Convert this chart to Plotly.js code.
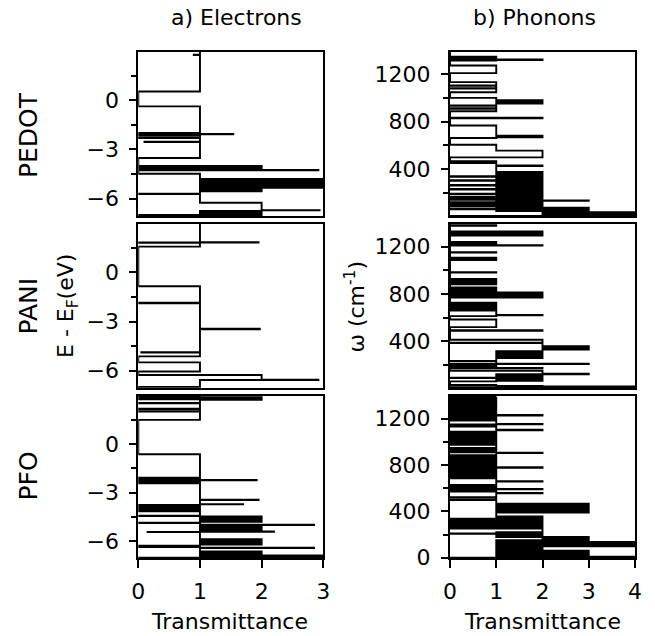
<!DOCTYPE html>
<html><head><meta charset="utf-8">
<script src="https://cdn.plot.ly/plotly-3.0.1.min.js"></script>
<style>html,body{margin:0;padding:0;background:#fff}#c{width:655px;height:636px}</style>
</head><body><div id="c"></div>
<script>
// ---- Electrons: energy breakpoints (eV, relative to E_F) and transmittance from each breakpoint upward ----
const pedotElE = [-7.05,-6.99,-6.96,-6.94,-6.92,-6.90,-6.88,-6.86,-6.84,-6.82,-6.80,-6.78,-6.76,-6.74,-6.71,-6.69,-6.24,-5.72,-5.69,-5.55,-5.52,-5.48,-5.45,-5.40,-5.36,-5.33,-5.31,-5.28,-5.25,-5.22,-5.19,-5.16,-5.13,-5.10,-5.06,-5.03,-5.00,-4.97,-4.94,-4.90,-4.86,-4.82,-4.79,-4.48,-4.27,-4.25,-4.21,-4.17,-4.13,-4.10,-4.06,-4.03,-4.01,-3.52,-2.55,-2.53,-2.30,-2.28,-2.16,-2.13,-2.10,-2.07,-2.05,-2.03,-2.00,-0.38,0.53,2.75,2.77,2.95];
const pedotElT = [0,2,1,2,1,2,1,2,1,2,1,2,1,2,2.94,2,1,0,1,2,1,2,1,2,1,3,1,3,1,3,2,3,1,3,2,3,1,3,1,3,1,3,1,0,2.92,2,0,2,0,2,0,2,0,1,0.1,1,0,1,0,1,0,1.54,1,0,1,0,1,0.9,1,1];

const paniElE = [-7.05,-6.98,-6.56,-6.54,-6.26,-6.04,-5.49,-5.12,-4.89,-4.87,-3.47,-3.44,-1.88,-1.85,-0.85,1.57,1.80,1.82,1.84,2.95];
const paniElT = [0,1,2.92,2,0,1,0,1,0.05,1,1.97,1,0,1,0,1,0,1.95,1,1];

const pfoElE = [-7.05,-7.02,-7.00,-6.97,-6.94,-6.91,-6.88,-6.85,-6.82,-6.79,-6.76,-6.72,-6.69,-6.66,-6.63,-6.42,-6.40,-6.36,-6.33,-6.30,-6.27,-6.20,-6.17,-6.14,-6.11,-6.08,-6.04,-6.00,-5.96,-5.92,-5.88,-5.43,-5.42,-5.40,-5.36,-5.33,-5.30,-5.27,-5.24,-5.21,-5.18,-5.15,-5.12,-5.09,-5.06,-5.03,-5.00,-4.98,-4.88,-4.86,-4.80,-4.77,-4.74,-4.71,-4.68,-4.65,-4.62,-4.59,-4.56,-4.53,-4.50,-4.47,-4.44,-4.42,-4.15,-4.12,-4.08,-4.05,-4.01,-3.98,-3.94,-3.91,-3.87,-3.84,-3.80,-3.77,-3.73,-3.71,-3.46,-3.44,-2.43,-2.41,-2.37,-2.34,-2.31,-2.28,-2.25,-2.23,-2.20,-2.17,-2.14,-2.11,-2.08,-0.64,1.48,1.99,2.01,2.15,2.17,2.50,2.52,2.72,2.75,2.78,2.81,2.84,2.87,2.90,2.95];
const pfoElT = [0,3,1,3,1,3,1,2,1,2,1,2,1,2,1,2.85,1,0,1,0,1,2,1,2,1,2,1,2,1,2,1,0.15,2.2,1,2,1,2,1,2,1,2,1,2,1,2,1,2.85,1,0,1,2,1,2,1,2,1,2,1,2,1,2,1,0,1,0,1,0,1,0,1,0,1,0,1,0,1,1.7,1,1.95,1,0,1,0,1,0,1,1.92,0,1,0,1,0,1,0,1,0,1,0,1,0,1,2,0,2,0,2,1,0,0];

// ---- Phonons: frequency breakpoints (cm^-1) and transmittance from each breakpoint upward ----
const pedotPhW = [3,5,8,11,14,17,20,24,28,32,36,41,45,49,53,57,61,63,67,71,75,80,84,88,92,96,100,104,108,112,116,120,124,128,133,136,140,145,150,156,160,165,170,176,182,188,192,198,204,210,216,222,228,232,238,244,250,256,262,266,272,278,284,290,296,302,306,312,318,324,330,336,340,346,352,358,364,370,376,386,426,430,452,456,468,499,556,606,663,668,673,678,683,768,829,834,889,910,914,935,938,955,958,962,966,970,974,980,983,1002,1050,1080,1083,1103,1106,1135,1211,1276,1318,1322,1326,1330,1334,1338,1342,1346,1350,1392];
const pedotPhT = [0,4,2,4,2,4,2,4,2,4,2,3,1,3,1,3,0,3,1,3,1,2,0,2,0,2,0,2,0,2,0,2,1,2,3,2,0,2,1,2,0,1,2,1,2,0,1,2,1,2,1,2,0,2,1,2,1,2,0,1,2,1,2,1,2,0,2,1,2,1,2,0,1,2,1,2,1,2,1,1,2,1,0,1,0,2,1,0,1,2,1,2,1,0,2,0,1,0,1,0,1,2,1,2,1,2,1,2,1,0,1,0,1,0,1,0,1,0,1,2,0,1,0,1,0,1,0,0];

const paniPhW = [3,10,17,22,30,60,64,68,72,76,80,84,88,91,95,99,103,107,111,120,124,150,170,174,190,194,207,210,230,233,258,262,266,270,274,278,282,286,290,294,298,302,306,310,315,330,334,338,342,346,350,355,358,384,387,412,489,493,519,584,612,620,623,660,663,678,689,693,697,701,705,709,713,717,721,726,769,773,777,781,785,789,793,797,801,805,809,812,820,824,828,832,836,840,844,848,852,856,882,886,890,894,898,902,906,910,914,918,922,926,981,985,1087,1091,1095,1099,1102,1106,1150,1154,1209,1212,1216,1220,1224,1228,1232,1236,1240,1294,1298,1302,1306,1310,1314,1318,1322,1326,1330,1377,1381,1392];
const paniPhT = [0,4,2,1,0,1,2,1,2,1,2,1,0,2,1,2,1,2,1,3,2,0,2,0,1,0,3,1,0,1,2,1,2,1,2,1,2,1,2,1,2,1,2,1,2,3,2,3,2,3,2,3,2,0,2,0,2,0,1,0,1,2,1,0,1,0,1,0,1,0,1,0,1,0,1,0,2,0,2,1,2,0,2,1,2,0,2,0,1,0,1,0,1,0,1,0,1,0,1,0,1,0,1,0,1,0,1,0,1,0,1,0,1,0,1,0,1,0,1,0,2,1,0,1,0,1,0,1,0,2,0,2,0,2,1,2,0,2,0,1,0,0];

const pfoPhW = [-5,1,2,6,9,13,17,21,25,29,33,37,41,45,49,53,57,61,78,82,86,90,94,98,101,105,109,113,116,120,123,127,130,134,137,151,155,159,163,167,171,175,179,183,187,191,195,199,203,207,209,213,217,221,252,256,260,264,268,272,276,280,284,288,292,296,300,304,308,312,316,320,324,328,332,336,340,344,348,352,356,390,394,398,402,406,410,414,418,422,426,430,434,438,442,446,450,454,458,462,466,497,500,518,522,555,558,570,574,578,582,586,590,593,598,602,606,610,614,628,657,660,686,700,704,708,712,716,720,724,728,732,736,740,744,748,752,756,760,764,768,772,776,780,784,788,792,796,800,804,808,812,816,820,824,828,832,836,840,844,848,852,856,860,864,868,873,882,885,902,906,910,914,918,922,926,930,934,938,942,946,975,979,985,989,995,999,1005,1009,1015,1019,1030,1034,1045,1049,1058,1062,1072,1076,1085,1088,1100,1104,1132,1134,1137,1150,1153,1183,1187,1191,1195,1199,1203,1207,1211,1215,1220,1223,1227,1231,1235,1239,1243,1247,1251,1255,1259,1263,1267,1271,1275,1279,1283,1287,1291,1295,1299,1303,1307,1311,1315,1319,1323,1327,1331,1335,1339,1343,1350,1354,1358,1362,1366,1370,1374,1378,1381,1395];
const pfoPhT = [0,1,3,4,3,1,3,1,3,1,3,1,3,1,3,1,3,1,2,1,2,1,2,4,1,2,1,4,2,4,1,4,2,4,1,3,2,3,2,3,2,3,1,2,1,2,1,2,1,0,1,2,1,2,0,1,2,0,2,1,0,2,1,0,2,1,0,2,0,1,2,0,2,1,0,2,1,2,1,2,1,3,1,3,1,3,1,3,1,3,1,3,1,3,1,3,1,3,1,3,1,0,1,0,1,2,1,0,1,0,1,0,2,1,0,1,0,1,0,1,2,1,0,1,0,1,0,1,0,1,0,1,0,1,0,1,0,1,0,1,0,1,2,0,1,0,1,0,1,0,1,0,1,0,1,0,1,0,1,0,1,0,1,0,1,0,1,0,1,2,1,0,1,0,1,0,1,0,1,0,1,0,1,0,1,0,1,0,1,0,1,0,1,0,1,0,1,0,1,0,1,2,1,0,1,0,2,1,0,1,0,1,0,1,0,1,0,1,0,2,1,0,1,0,1,0,1,0,1,0,1,0,1,0,1,0,1,0,1,0,1,0,1,0,1,0,1,0,1,0,1,0,1,0,1,0,1,0,1,0,1,0,0];

// ---- labels ----
const rowLabels = ['PEDOT','PANI','PFO'];
const colTitles = ['a) Electrons','b) Phonons'];
const elTicks = [0,-3,-6];
const phTicks = [0,400,800,1200];
const elXTicks = [0,1,2,3];
const phXTicks = [0,1,2,3,4];

const W=655, H=636;
const FONT = 'DejaVu Sans';
const px = x => x/W, py = y => 1 - y/H;

const panels = [
  {E:pedotElE, T:pedotElT}, {E:pedotPhW, T:pedotPhT},
  {E:paniElE, T:paniElT},   {E:paniPhW, T:paniPhT},
  {E:pfoElE, T:pfoElT},     {E:pfoPhW, T:pfoPhT}
];
const traces = panels.map((p,i)=>({
  type:'scatter', mode:'lines', x:p.T, y:p.E,
  line:{shape:'vh', color:'#000', width:1.9},
  xaxis: i===0?'x':'x'+(i+1), yaxis: i===0?'y':'y'+(i+1),
  hoverinfo:'skip', showlegend:false
}));

const colX = [[138.3,323.3],[450,635]];
const rowY = [[51.7,216],[224,388],[396,558.3]];
const layout = {
  width:W, height:H, margin:{l:0,r:0,t:0,b:0},
  paper_bgcolor:'#fff', plot_bgcolor:'#fff', showlegend:false,
  font:{family:FONT, size:22, color:'#000'},
  annotations:[]
};
for (let r=0;r<3;r++){
  for (let c=0;c<2;c++){
    const i = r*2+c, s = i===0?'':String(i+1);
    const bottom = r===2;
    const xa = {
      domain:[px(colX[c][0]), px(colX[c][1])],
      range: c===0?[0,3]:[0,4], anchor:'y'+s,
      showline:true, mirror:true, linewidth:2, linecolor:'#000',
      showgrid:false, zeroline:false, fixedrange:true,
      tickmode:'array', tickvals: c===0?elXTicks:phXTicks,
      ticks: bottom?'outside':'', ticklen:8, tickwidth:2, tickcolor:'#000',
      showticklabels: bottom, ticklabelstandoff:4,
      tickfont:{family:FONT,size:22,color:'#000'}
    };
    const ya = {
      domain:[py(rowY[r][1]), py(rowY[r][0])],
      range: c===0?[-7.05,2.95]:(bottom?[-5,1395]:[4,1392]), anchor:'x'+s,
      showline:true, mirror:true, linewidth:2, linecolor:'#000',
      showgrid:false, zeroline:false, fixedrange:true,
      tickmode:'array', tickvals: c===0?elTicks:phTicks,
      ticks:'outside', ticklen:7, tickwidth:2, tickcolor:'#000',
      ticklabelstandoff:6,
      minor:{tickmode:'linear', tick0:0, dtick: c===0?1.5:200, ticks:'outside', ticklen:5, tickwidth:2, tickcolor:'#000', showgrid:false},
      tickfont:{family:FONT,size:22,color:'#000'}
    };
    layout['xaxis'+s]=xa; layout['yaxis'+s]=ya;
  }
}
const ann = (x,y,text,size,angle)=>({xref:'paper',yref:'paper',x:px(x),y:py(y),text:text,showarrow:false,
  xanchor:'center',yanchor:'middle',textangle:angle||0,font:{family:FONT,size:size,color:'#000'}});
layout.annotations.push(ann(236,17,colTitles[0],22));
layout.annotations.push(ann(534,17,colTitles[1],22));
layout.annotations.push(ann(28,135,rowLabels[0],25,-90));
layout.annotations.push(ann(28,306.5,rowLabels[1],25,-90));
layout.annotations.push(ann(28,476.5,rowLabels[2],25,-90));
layout.annotations.push(ann(67,306,'E - E<sub>F</sub>(eV)',22,-90));
layout.annotations.push(ann(354,306.5,'ω (cm<sup>-1</sup>)',22,-90));
layout.annotations.push(ann(230,621,'Transmittance',22));
layout.annotations.push(ann(542,621,'Transmittance',22));

Plotly.newPlot('c', traces, layout, {staticPlot:true, displayModeBar:false});
</script></body></html>
